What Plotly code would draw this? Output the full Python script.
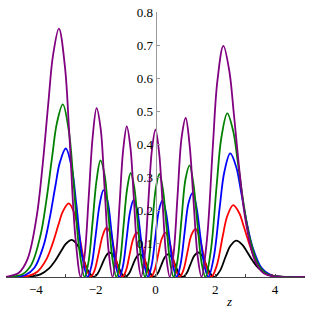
import plotly.graph_objects as go

# values (z, density)
black_z = [-5, -4.55, -4.15, -3.85, -3.55, -3.35, -3.15, -3.00, -2.80, -2.60, -2.45, -2.25, -2.07, -1.94, -1.805, -1.67, -1.54, -1.405, -1.27, -1.14, -1.008, -0.89, -0.77, -0.65, -0.53, -0.41, -0.29, -0.17, -0.05, 0.07, 0.19, 0.31, 0.43, 0.55, 0.67, 0.79, 0.908, 1.04, 1.17, 1.305, 1.44, 1.57, 1.705, 1.84, 1.97, 2.15, 2.35, 2.50, 2.70, 2.90, 3.05, 3.25, 3.45, 3.75, 4.05, 4.45, 5]
black_v = [0, 0.0002, 0.0018, 0.0081, 0.0268, 0.0497, 0.0791, 0.0997, 0.112, 0.0950, 0.0638, 0.0180, 0,
           0.0096, 0.0347, 0.0615, 0.074, 0.0651, 0.0384, 0.0115, 0,
           0.0097, 0.0337, 0.0583, 0.069, 0.0594, 0.0351, 0.0103, 0,
           0.0103, 0.0351, 0.0594, 0.069, 0.0583, 0.0337, 0.0097, 0,
           0.0115, 0.0384, 0.0651, 0.074, 0.0615, 0.0347, 0.0096, 0,
           0.0177, 0.0627, 0.0933, 0.110, 0.0979, 0.0777, 0.0488, 0.0263, 0.0079, 0.0018, 0.0002, 0]

red_z = [-5, -4.65, -4.25, -3.95, -3.65, -3.45, -3.25, -3.10, -2.90, -2.70, -2.55, -2.35, -2.17, -2.04, -1.905, -1.77, -1.64, -1.505, -1.37, -1.24, -1.108, -0.99, -0.87, -0.75, -0.63, -0.51, -0.39, -0.27, -0.15, -0.03, 0.09, 0.21, 0.33, 0.45, 0.57, 0.69, 0.808, 0.94, 1.07, 1.205, 1.34, 1.47, 1.605, 1.74, 1.87, 2.05, 2.25, 2.40, 2.60, 2.80, 2.95, 3.15, 3.35, 3.65, 3.95, 4.35, 5]
red_v = [0, 0.0003, 0.0036, 0.0160, 0.0531, 0.0986, 0.1567, 0.1976, 0.222, 0.1883, 0.1265, 0.0357, 0,
         0.0194, 0.0699, 0.1238, 0.149, 0.1311, 0.0773, 0.0232, 0,
         0.0189, 0.0660, 0.1141, 0.135, 0.1162, 0.0686, 0.0201, 0,
         0.0200, 0.0681, 0.1154, 0.134, 0.1132, 0.0655, 0.0188, 0,
         0.0226, 0.0753, 0.1276, 0.145, 0.1205, 0.0680, 0.0189, 0,
         0.0349, 0.1237, 0.1840, 0.217, 0.1931, 0.1532, 0.0963, 0.0519, 0.0156, 0.0035, 0.0003, 0]

blue_z = [-5, -4.75, -4.35, -4.05, -3.75, -3.55, -3.35, -3.20, -3.00, -2.80, -2.65, -2.45, -2.27, -2.14, -2.005, -1.87, -1.74, -1.605, -1.47, -1.34, -1.208, -1.09, -0.97, -0.85, -0.73, -0.61, -0.49, -0.37, -0.25, -0.13, -0.01, 0.11, 0.23, 0.35, 0.47, 0.59, 0.708, 0.84, 0.97, 1.105, 1.24, 1.37, 1.505, 1.64, 1.77, 1.95, 2.15, 2.30, 2.50, 2.70, 2.85, 3.05, 3.25, 3.55, 3.85, 4.25, 5]
blue_v = [0, 0.0006, 0.0062, 0.0279, 0.0927, 0.1723, 0.2739, 0.3453, 0.388, 0.3290, 0.2212, 0.0625, 0,
          0.0341, 0.1229, 0.2177, 0.262, 0.2306, 0.1360, 0.0409, 0,
          0.0326, 0.1139, 0.1969, 0.233, 0.2006, 0.1184, 0.0347, 0,
          0.0344, 0.1173, 0.1989, 0.231, 0.1952, 0.1130, 0.0323, 0,
          0.0396, 0.1318, 0.2235, 0.254, 0.2111, 0.1191, 0.0330, 0,
          0.0601, 0.2126, 0.3163, 0.373, 0.3320, 0.2633, 0.1656, 0.0891, 0.0269, 0.0060, 0.0006, 0]

green_z = [-5, -4.85, -4.45, -4.15, -3.85, -3.65, -3.45, -3.30, -3.10, -2.90, -2.75, -2.55, -2.37, -2.24, -2.105, -1.97, -1.84, -1.705, -1.57, -1.44, -1.308, -1.19, -1.07, -0.95, -0.83, -0.71, -0.59, -0.47, -0.35, -0.23, -0.11, 0.01, 0.13, 0.25, 0.37, 0.49, 0.608, 0.74, 0.87, 1.005, 1.14, 1.27, 1.405, 1.54, 1.67, 1.85, 2.05, 2.20, 2.40, 2.60, 2.75, 2.95, 3.15, 3.45, 3.75, 4.15, 5]
green_v = [0, 0.0008, 0.0083, 0.0375, 0.1245, 0.2313, 0.3678, 0.4637, 0.521, 0.4418, 0.2970, 0.0839, 0,
           0.0458, 0.1651, 0.2925, 0.352, 0.3098, 0.1827, 0.0549, 0,
           0.0440, 0.1535, 0.2653, 0.314, 0.2704, 0.1595, 0.0468, 0,
           0.0463, 0.1580, 0.2678, 0.311, 0.2628, 0.1521, 0.0435, 0,
           0.0526, 0.1749, 0.2966, 0.337, 0.2800, 0.1581, 0.0438, 0,
           0.0795, 0.2816, 0.4189, 0.494, 0.4397, 0.3488, 0.2193, 0.1181, 0.0356, 0.0079, 0.0007, 0]

purple_z = [-5, -4.98, -4.58, -4.28, -3.98, -3.78, -3.58, -3.43, -3.23, -3.03, -2.88, -2.68, -2.50, -2.37, -2.235, -2.10, -1.97, -1.835, -1.70, -1.57, -1.438, -1.32, -1.20, -1.08, -0.96, -0.84, -0.72, -0.60, -0.48, -0.36, -0.24, -0.12, 0.00, 0.12, 0.24, 0.36, 0.478, 0.61, 0.74, 0.875, 1.01, 1.14, 1.275, 1.41, 1.54, 1.72, 1.92, 2.07, 2.27, 2.47, 2.62, 2.82, 3.02, 3.32, 3.62, 4.02, 5]
purple_v = [0, 0.0011, 0.012, 0.054, 0.1793, 0.333, 0.5295, 0.6675, 0.75, 0.636, 0.4275, 0.1208, 0,
            0.0663, 0.2392, 0.4238, 0.51, 0.4488, 0.2647, 0.0796, 0,
            0.0637, 0.2225, 0.3845, 0.455, 0.3918, 0.2311, 0.0678, 0,
            0.0663, 0.2261, 0.3831, 0.445, 0.3760, 0.2176, 0.0623, 0,
            0.0749, 0.2491, 0.4224, 0.48, 0.3989, 0.2251, 0.0624, 0,
            0.1124, 0.3979, 0.5919, 0.698, 0.6212, 0.4928, 0.3099, 0.1668, 0.0503, 0.0112, 0.001, 0]

x_ticks = [-4, -2, 0, 2, 4]
x_ticktext = ["\u22124", "\u22122", "0", "2", "4"]
y_ticks = [0.1, 0.2, 0.3, 0.4, 0.5, 0.6, 0.7, 0.8]
y_ticktext = ["0.1", "0.2", "0.3", "0.4", "0.5", "0.6", "0.7", "0.8"]

series = [
    (black_z, black_v, "#000000"),
    (red_z, red_v, "#ff0000"),
    (blue_z, blue_v, "#0000ff"),
    (green_z, green_v, "#008000"),
    (purple_z, purple_v, "#800080"),
]

fig = go.Figure()
for zs, vs, col in series:
    fig.add_trace(go.Scatter(x=zs, y=vs, mode="lines",
                             line=dict(color=col, width=1.8, shape="spline", smoothing=1.0),
                             showlegend=False, hoverinfo="skip"))

font = dict(family="Liberation Serif, Times New Roman, serif", size=13, color="black")

fig.update_layout(
    width=312, height=312,
    margin=dict(l=5.5, r=6.5, t=12, b=35),
    paper_bgcolor="white", plot_bgcolor="white",
    font=font,
    hovermode=False,
    xaxis=dict(range=[-5, 5], tickvals=x_ticks, ticktext=x_ticktext,
               showgrid=False, zeroline=False, showline=True, linecolor="#444444", linewidth=1,
               ticks="inside", ticklen=3, tickcolor="#444444",
               minor=dict(dtick=1, tick0=0, ticks="inside", ticklen=3, tickcolor="#444444"),
               tickfont=font),
    yaxis=dict(range=[0, 0.8], tickvals=y_ticks, ticktext=y_ticktext,
               anchor="free", position=0.5, side="left",
               showgrid=False, zeroline=False, showline=True, linecolor="#999999", linewidth=1,
               ticks="inside", ticklen=3, tickcolor="#999999",
               tickfont=font),
    annotations=[dict(text="<i>z</i>", x=0.745, y=-0.094, xref="paper", yref="paper",
                      showarrow=False, xanchor="center", yanchor="middle",
                      font=dict(family="Liberation Serif, Times New Roman, serif", size=13, color="black"))],
)

fig.write_html("out.html", config={"displayModeBar": False},
               post_script="document.body.style.margin='0';document.body.style.padding='0';")
